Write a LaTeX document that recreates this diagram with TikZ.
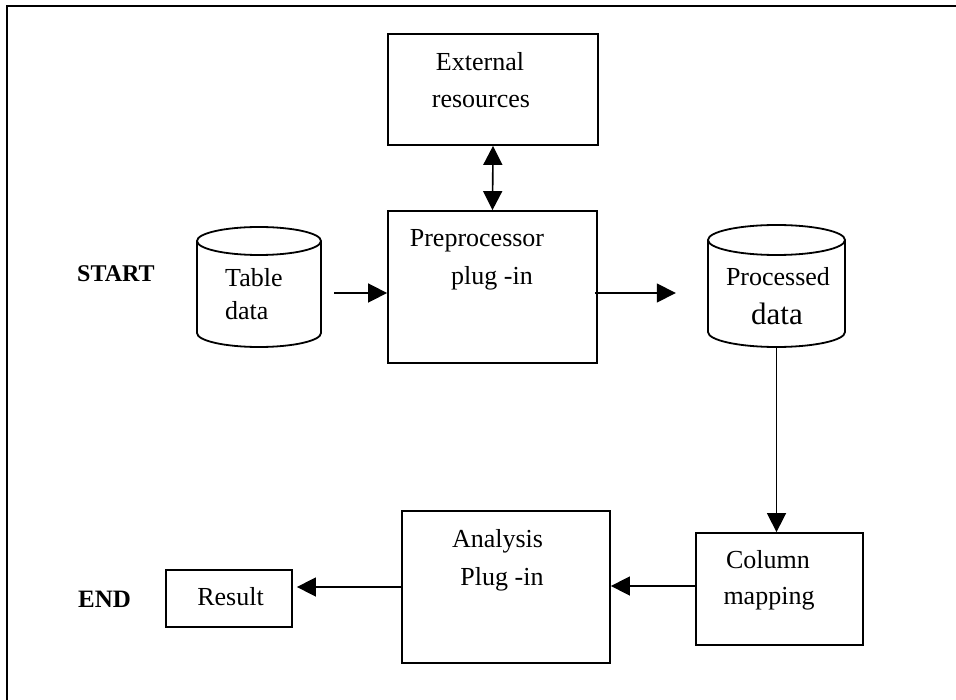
\documentclass[tikz,border=0pt]{standalone}
\usepackage{fontspec}
\setmainfont{Liberation Serif}
\usetikzlibrary{arrows.meta}
\begin{document}
\begin{tikzpicture}[x=1pt,y=-1pt,
  box/.style={draw, line width=1.8pt, inner sep=0pt},
  cylbox/.style={inner sep=0pt},
  cyl/.style={line width=1.8pt},
  txt/.style={anchor=base, inner sep=0pt, font=\fontsize{26}{38}\selectfont},
  lbl/.style={anchor=base west, inner sep=0pt, font=\bfseries\fontsize{25}{30}\selectfont},
  arr/.style={line width=1.6pt, -{Triangle[length=19pt,width=19pt]}},
  darr/.style={line width=1.6pt, {Triangle[length=19pt,width=19pt]}-{Triangle[length=19pt,width=19pt]}}]
\useasboundingbox (0,0) rectangle (956,700);
% frame
\draw[line width=2.2pt] (7,702) -- (7,6) -- (958,6);
% boxes
\node[box, minimum width=210pt, minimum height=111pt] (ext) at (493,89.5) {};
\node[box, minimum width=209pt, minimum height=152pt] (pre) at (492.5,287) {};
\node[box, minimum width=167pt, minimum height=112pt] (col) at (779.5,589) {};
\node[box, minimum width=208pt, minimum height=152pt] (ana) at (506,587) {};
\node[box, minimum width=126pt, minimum height=57pt] (res) at (229,598.5) {};
% cylinders
\node[cylbox, minimum width=124pt, minimum height=120pt] (tbl) at (259,287) {};
\draw[cyl] (197,241) -- (197,333) arc[start angle=180, end angle=0, x radius=62, y radius=14] -- (321,241);
\draw[cyl] (259,241) ellipse[x radius=62, y radius=14];
\node[cylbox, minimum width=137pt, minimum height=122pt] (proc) at (776.5,286) {};
\draw[cyl] (708,240) -- (708,332) arc[start angle=180, end angle=0, x radius=68.5, y radius=15] -- (845,240);
\draw[cyl] (776.5,240) ellipse[x radius=68.5, y radius=15];
% texts
\node[txt] (t1) at (480,71) {External};
\node[txt] (t2) at (481,108) {resources};
\node[txt] (t3) at (477,247) {Preprocessor};
\node[txt] (t4) at (492,285) {plug -in};
\node[txt, anchor=base west] (t5) at (225,287) {Table};
\node[txt, anchor=base west] (t6) at (225,320) {data};
\node[txt] (t7) at (778,286) {Processed};
\node[txt, font=\fontsize{31}{38}\selectfont] (t8) at (777,325) {data};
\node[txt] (t9) at (768,568) {Column};
\node[txt] (t10) at (769,604) {mapping};
\node[txt] (t11) at (497.5,547) {Analysis};
\node[txt] (t12) at (502,585) {Plug -in};
\node[txt] (t13) at (230.5,605) {Result};
\node[lbl, font=\bfseries\fontsize{24}{30}\selectfont] (start) at (77,282) {START};
\node[lbl] (endl) at (78,607) {END};
% connectors
\draw[darr] (ext.south) -- (pre.north);
\draw[arr] ([shift={(13,6)}]tbl.east) -- ([shift={(0,6)}]pre.west);
\draw[arr] ([shift={(-3,6)}]pre.east) -- ([shift={(-32,7)}]proc.west);
\draw[arr] (proc.south) -- (proc.south |- col.north);
\draw[arr] ([shift={(0,-3)}]col.west) -- ([shift={(0,-1)}]ana.east);
\draw[arr, shorten >=4pt] (ana.west) -- (res.east |- ana.west);
\end{tikzpicture}
\end{document}
